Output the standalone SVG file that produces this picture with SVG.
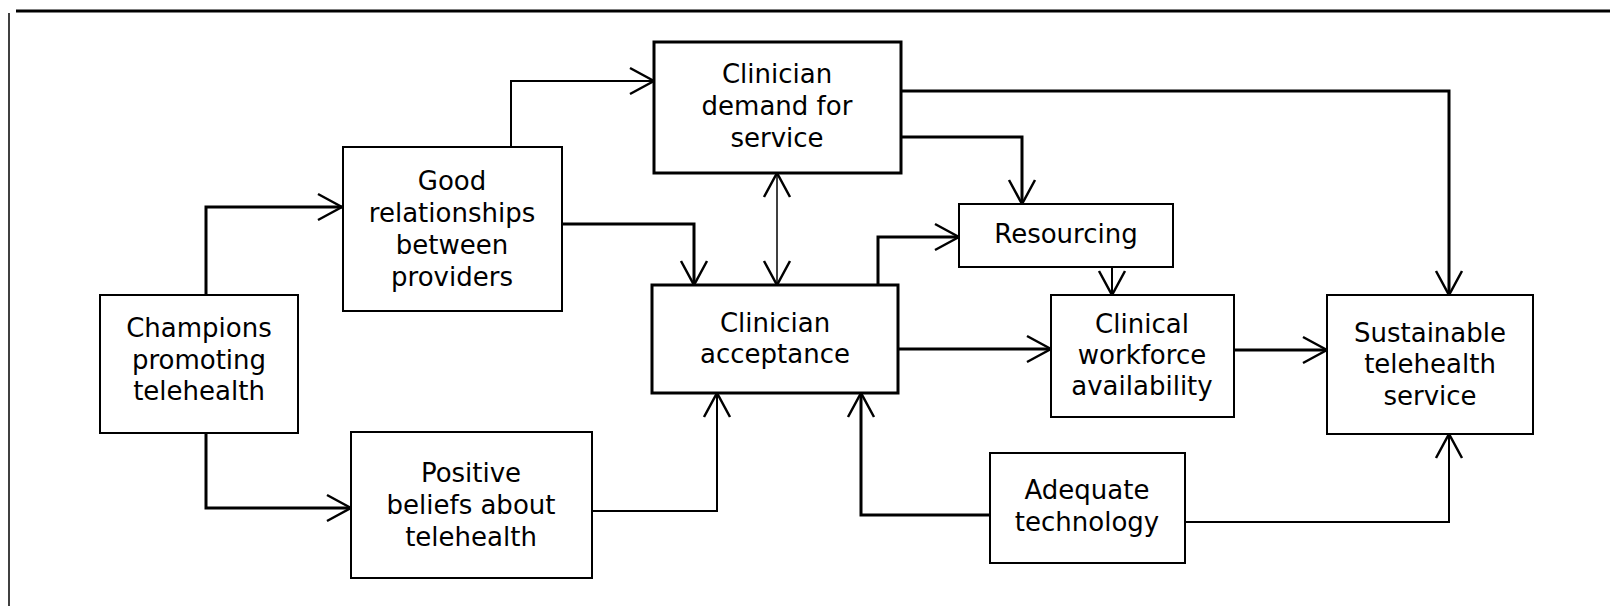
<svg xmlns="http://www.w3.org/2000/svg" width="1610" height="606" viewBox="0 0 1610 606">
<style>
.box{fill:#fff;stroke:#000;stroke-width:2}
.thick{stroke-width:3}
.t{font-family:"DejaVu Sans","Liberation Sans",sans-serif;font-size:26px;fill:#000;text-anchor:middle}
.c{fill:none;stroke:#000;stroke-width:2}
.c3{stroke-width:3}
.c1{stroke-width:1.5}
</style>
<defs>
<marker id="ah" markerUnits="userSpaceOnUse" markerWidth="28" markerHeight="30" viewBox="-2 -2 28 30" refX="24" refY="13" orient="auto-start-reverse">
<path d="M0,0 L24,13 L0,26" fill="none" stroke="#000" stroke-width="2.5"/>
</marker>
</defs>
<rect width="1610" height="606" fill="#fff"/>
<g id="frame">
<line x1="16" y1="11" x2="1610" y2="11" stroke="#000" stroke-width="3"/>
<line x1="9" y1="13" x2="9" y2="606" stroke="#000" stroke-width="1.5"/>
</g>
<g id="connectors">
<path class="c c3" d="M206,295 V207 H342" marker-end="url(#ah)"/>
<path class="c c3" d="M206,433 V508 H351" marker-end="url(#ah)"/>
<path class="c" d="M511,147 V81 H654" marker-end="url(#ah)"/>
<path class="c c3" d="M562,224 H694 V285" marker-end="url(#ah)"/>
<path class="c" d="M592,511 H717 V393" marker-end="url(#ah)"/>
<path class="c c1" d="M777,173 V285" marker-start="url(#ah)" marker-end="url(#ah)"/>
<path class="c c3" d="M901,91 H1449 V295" marker-end="url(#ah)"/>
<path class="c c3" d="M901,137 H1022 V204" marker-end="url(#ah)"/>
<path class="c c3" d="M878,285 V237 H959" marker-end="url(#ah)"/>
<path class="c" d="M1112,267 V295" marker-end="url(#ah)"/>
<path class="c c3" d="M898,349 H1051" marker-end="url(#ah)"/>
<path class="c c3" d="M1234,350 H1327" marker-end="url(#ah)"/>
<path class="c c3" d="M990,515 H861 V393" marker-end="url(#ah)"/>
<path class="c" d="M1185,522 H1449 V434" marker-end="url(#ah)"/>
</g>
<g id="champions">
<rect class="box" x="100" y="295" width="198" height="138"/>
<text class="t" x="199" y="337">Champions</text>
<text class="t" x="199" y="369">promoting</text>
<text class="t" x="199" y="400">telehealth</text>
</g>
<g id="good-relationships">
<rect class="box" x="343" y="147" width="219" height="164"/>
<text class="t" x="452" y="190">Good</text>
<text class="t" x="452" y="222">relationships</text>
<text class="t" x="452" y="254">between</text>
<text class="t" x="452" y="286">providers</text>
</g>
<g id="positive-beliefs">
<rect class="box" x="351" y="432" width="241" height="146"/>
<text class="t" x="471" y="482">Positive</text>
<text class="t" x="471" y="514">beliefs about</text>
<text class="t" x="471" y="546">telehealth</text>
</g>
<g id="clinician-demand">
<rect class="box thick" x="654" y="42" width="247" height="131"/>
<text class="t" x="777" y="83">Clinician</text>
<text class="t" x="777" y="115">demand for</text>
<text class="t" x="777" y="147">service</text>
</g>
<g id="clinician-acceptance">
<rect class="box thick" x="652" y="285" width="246" height="108"/>
<text class="t" x="775" y="332">Clinician</text>
<text class="t" x="775" y="363">acceptance</text>
</g>
<g id="resourcing">
<rect class="box" x="959" y="204" width="214" height="63"/>
<text class="t" x="1066" y="243">Resourcing</text>
</g>
<g id="clinical-workforce">
<rect class="box" x="1051" y="295" width="183" height="122"/>
<text class="t" x="1142" y="333">Clinical</text>
<text class="t" x="1142" y="364">workforce</text>
<text class="t" x="1142" y="395">availability</text>
</g>
<g id="sustainable">
<rect class="box" x="1327" y="295" width="206" height="139"/>
<text class="t" x="1430" y="342">Sustainable</text>
<text class="t" x="1430" y="373">telehealth</text>
<text class="t" x="1430" y="405">service</text>
</g>
<g id="adequate-technology">
<rect class="box" x="990" y="453" width="195" height="110"/>
<text class="t" x="1087" y="499">Adequate</text>
<text class="t" x="1087" y="531">technology</text>
</g>
</svg>
